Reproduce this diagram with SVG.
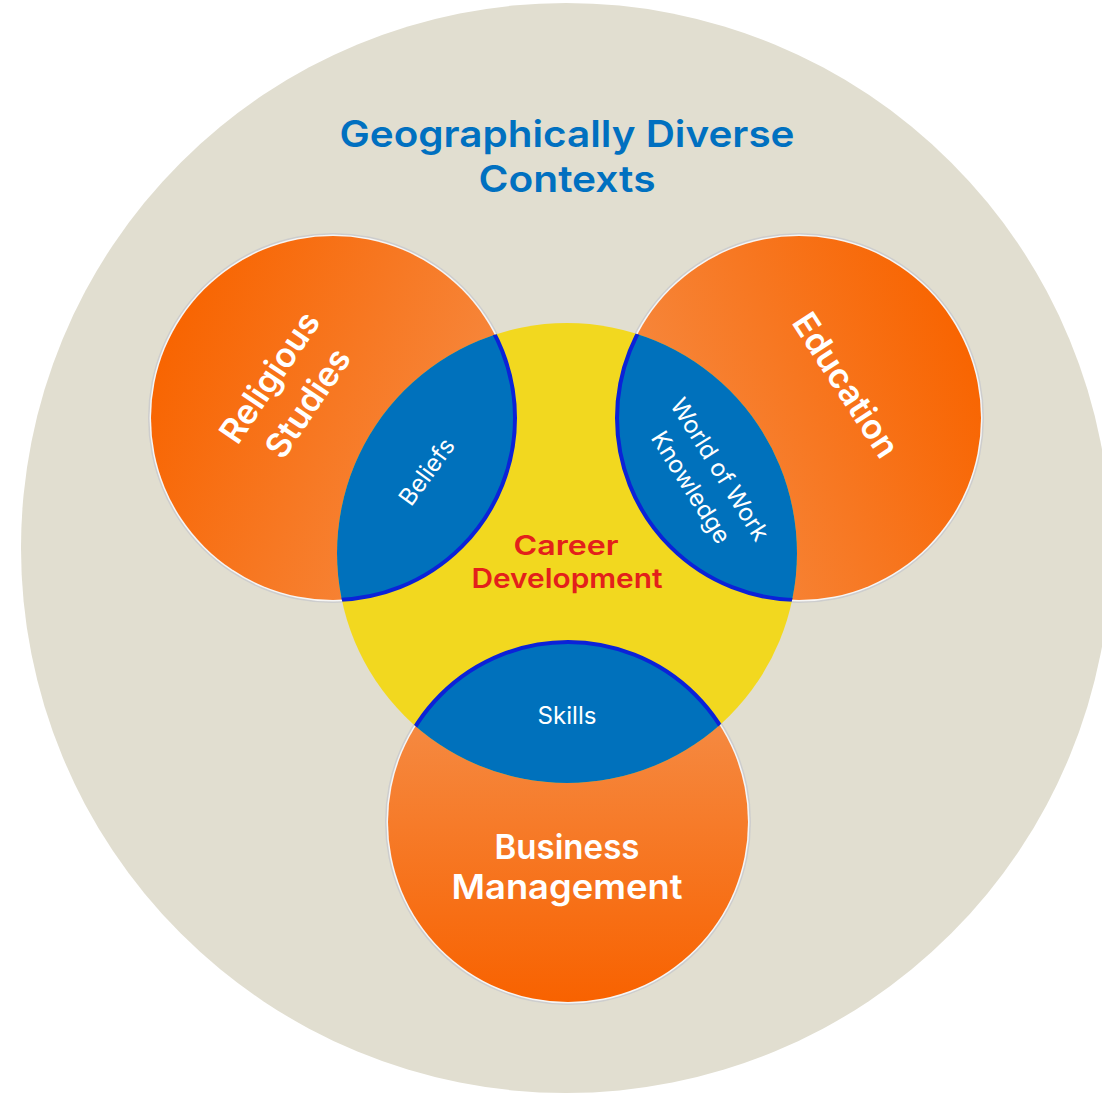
<svg xmlns="http://www.w3.org/2000/svg" width="1102" height="1095" viewBox="0 0 1102 1095">
<defs>
<linearGradient id="gRel" x1="0.02" y1="0.3" x2="0.95" y2="0.7">
<stop offset="0" stop-color="#f86400"/>
<stop offset="1" stop-color="#f68c45"/>
</linearGradient>
<linearGradient id="gEdu" x1="0.98" y1="0.3" x2="0.05" y2="0.7">
<stop offset="0" stop-color="#f86400"/>
<stop offset="1" stop-color="#f68c45"/>
</linearGradient>
<linearGradient id="gBus" x1="0" y1="0.25" x2="0" y2="1">
<stop offset="0" stop-color="#f5883f"/>
<stop offset="1" stop-color="#f86200"/>
</linearGradient>
<clipPath id="clipCareer"><circle cx="567" cy="553" r="230"/></clipPath>
</defs>
<style>
.rim1{fill:#cdcdcd}
.rim2{fill:#f5f5f5}
.lens{fill:#0071bc;stroke:#0b22d8;stroke-width:4}
.t{font-family:Inter,"Open Sans","Liberation Sans",sans-serif;text-anchor:middle}
.title{fill:#0070c0;font-size:37px;font-weight:600}
.white{fill:#ffffff}
.big{font-size:34px;font-weight:600}
.small{font-size:24px;font-weight:400}
.red{fill:#e3201b;font-size:27px;font-weight:600}
</style>
<rect width="1102" height="1095" fill="#ffffff"/>
<g id="context">
<circle cx="566" cy="548" r="545" fill="#e1ded0"/>
<text class="t title" x="567" y="147" textLength="455" lengthAdjust="spacingAndGlyphs">Geographically Diverse</text>
<text class="t title" x="567" y="192" textLength="177" lengthAdjust="spacingAndGlyphs">Contexts</text>
</g>
<g id="religious-studies">
<circle class="rim1" cx="333" cy="418" r="185"/>
<circle class="rim2" cx="333" cy="418" r="183.5"/>
<circle cx="333" cy="418" r="182" fill="url(#gRel)"/>
</g>
<g id="education">
<circle class="rim1" cx="799" cy="418" r="185"/>
<circle class="rim2" cx="799" cy="418" r="183.5"/>
<circle cx="799" cy="418" r="182" fill="url(#gEdu)"/>
</g>
<g id="business-management">
<circle class="rim1" cx="568" cy="822" r="183"/>
<circle class="rim2" cx="568" cy="822" r="181.5"/>
<circle cx="568" cy="822" r="180" fill="url(#gBus)"/>
</g>
<g id="career-development">
<circle cx="567" cy="553" r="230" fill="#f2d81f"/>
</g>
<g id="overlaps" clip-path="url(#clipCareer)">
<circle id="beliefs" class="lens" cx="333" cy="418" r="182"/>
<circle id="world-of-work" class="lens" cx="799" cy="418" r="182"/>
<circle id="skills" class="lens" cx="568" cy="822" r="180"/>
</g>
<g id="labels">
<g transform="translate(288.5,390) rotate(-56)">
<text class="t white big" x="0" y="-11">Religious</text>
<text class="t white big" x="0" y="35">Studies</text>
</g>
<g transform="translate(846,385) rotate(57)">
<text class="t white big" x="0" y="12">Education</text>
</g>
<g transform="translate(427,472) rotate(-54)">
<text class="t white small" x="0" y="8">Beliefs</text>
</g>
<g transform="translate(706,478) rotate(58)">
<text class="t white small" x="0" y="-8">World of Work</text>
<text class="t white small" x="0" y="26">Knowledge</text>
</g>
<text class="t white small" x="567" y="724" textLength="59" lengthAdjust="spacingAndGlyphs">Skills</text>
<text class="t red" x="566" y="555" textLength="105" lengthAdjust="spacingAndGlyphs">Career</text>
<text class="t red" x="567" y="588" textLength="191" lengthAdjust="spacingAndGlyphs">Development</text>
<text class="t white big" x="567" y="859" textLength="145" lengthAdjust="spacingAndGlyphs">Business</text>
<text class="t white big" x="567" y="899" textLength="231" lengthAdjust="spacingAndGlyphs">Management</text>
</g>
</svg>
